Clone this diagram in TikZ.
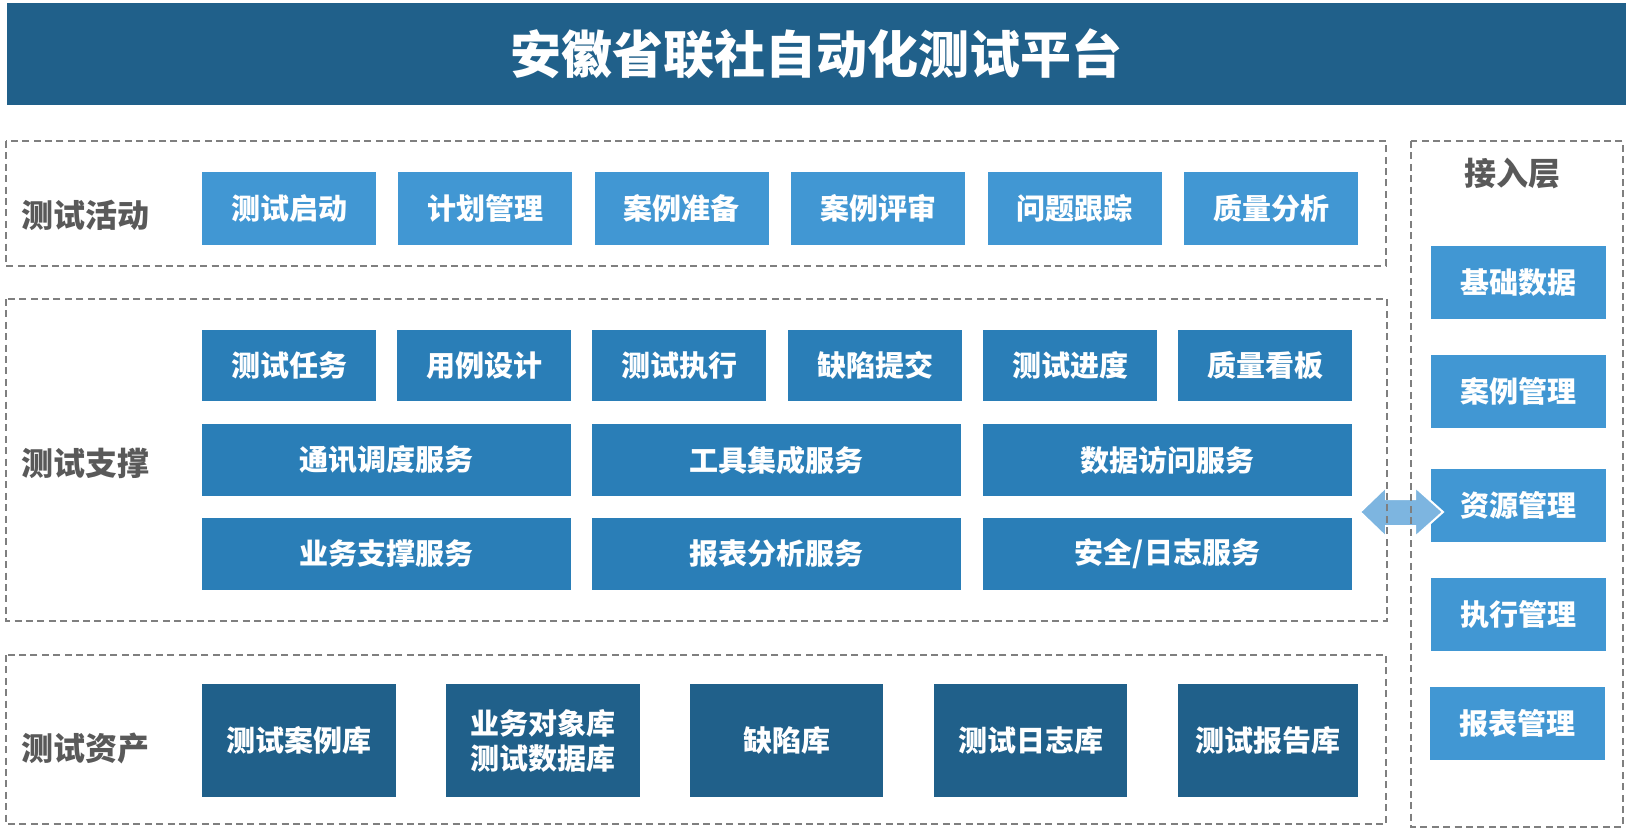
\documentclass[tikz,border=0pt]{standalone}
\usepackage{fontspec}
\setmainfont{Noto Sans CJK SC}
\definecolor{titlebg}{HTML}{20608A}
\definecolor{lightb}{HTML}{4197D3}
\definecolor{midb}{HTML}{2A7EB7}
\definecolor{darkb}{HTML}{20608A}
\definecolor{lblgray}{HTML}{595959}
\definecolor{dashgray}{HTML}{7F7F7F}
\definecolor{arrowb}{HTML}{7DB5E0}
\tikzset{
  box/.style={rectangle, inner sep=0pt, text=white, font=\bfseries\fontsize{14.5}{17.5}\selectfont, align=center},
  lbox/.style={box, fill=lightb},
  mbox/.style={box, fill=midb},
  dbox/.style={box, fill=darkb},
  grp/.style={draw=dashgray, line width=1pt, dash pattern=on 3.5pt off 2.2pt},
  lbl/.style={anchor=west, inner sep=0pt, text=lblgray, font=\bfseries\fontsize{16}{19}\selectfont},
}
\begin{document}
\begin{tikzpicture}[x=0.5pt, y=-0.5pt]
\useasboundingbox (0,0) rectangle (1629,829);
% title
\node[rectangle, fill=titlebg, minimum width=809.5pt, minimum height=51pt, inner sep=0pt,
      text=white, font=\bfseries\fontsize{25.5}{30}\selectfont] (title) at (816.5,54) {安徽省联社自动化测试平台};
% labels
\node[lbl] (l1) at (21,215) {测试活动};
\node[lbl] (l2) at (21,463) {测试支撑};
\node[lbl] (l3) at (21,748) {测试资产};
\node[lbl, anchor=center] (l4) at (1512,173) {接入层};
% row 1
\begin{scope}[every node/.style={lbox, minimum width=87pt, minimum height=36.5pt}]
\node (a1) at (289,208.5) {测试启动};
\node (a2) at (485.4,208.5) {计划管理};
\node (a3) at (681.8,208.5) {案例准备};
\node (a4) at (878.2,208.5) {案例评审};
\node (a5) at (1074.6,208.5) {问题跟踪};
\node (a6) at (1271,208.5) {质量分析};
\end{scope}
% row 2
\begin{scope}[every node/.style={mbox, minimum width=87pt, minimum height=35.5pt}]
\node (b1) at (289,365.5) {测试任务};
\node (b2) at (484,365.5) {用例设计};
\node (b3) at (679,365.5) {测试执行};
\node (b4) at (875,365.5) {缺陷提交};
\node (b5) at (1070,365.5) {测试进度};
\node (b6) at (1265,365.5) {质量看板};
\end{scope}
% rows 3,4
\begin{scope}[every node/.style={mbox, minimum width=184.5pt, minimum height=36pt}]
\node (c1) at (386,460) {通讯调度服务};
\node (c2) at (776.5,460) {工具集成服务};
\node (c3) at (1167.5,460) {数据访问服务};
\node (d1) at (386,554) {业务支撑服务};
\node (d2) at (776.5,554) {报表分析服务};
\node (d3) at (1167.5,554) {安全/日志服务};
\end{scope}
% row 5
\begin{scope}[every node/.style={dbox, minimum height=56.5pt}]
\node[minimum width=97pt] (e1) at (299,740.5) {测试案例库};
\node[minimum width=97pt] (e2) at (543,740.5) {业务对象库\\测试数据库};
\node[minimum width=96.5pt] (e3) at (786.5,740.5) {缺陷库};
\node[minimum width=96.5pt] (e4) at (1030.5,740.5) {测试日志库};
\node[minimum width=90pt] (e5) at (1268,740.5) {测试报告库};
\end{scope}
% right column
\begin{scope}[every node/.style={lbox, minimum width=87.5pt, minimum height=36.5pt}]
\node (r1) at (1518.5,282.5) {基础数据};
\node (r2) at (1518.5,391.5) {案例管理};
\node (r3) at (1518.5,505.5) {资源管理};
\node (r4) at (1518.5,614) {执行管理};
\node (r5) at (1517,723.5) {报表管理};
\end{scope}
% double arrow (over the boxes, under the dashed borders)
\coordinate (arrL) at (1360,512);
\coordinate (arrR) at (1443,512);
\fill[arrowb, draw=white, line width=1pt] (arrL) -- (1386,487) -- (1386,499) -- (1415,499) -- (1415,487) -- (arrR)
  -- (1415,537) -- (1415,526) -- (1386,526) -- (1386,537) -- cycle;
% groups
\draw[grp] (6,141) rectangle (1386,266);
\draw[grp] (6,299) rectangle (1387,621);
\draw[grp] (6,655) rectangle (1386,824);
\draw[grp] (1411,141) rectangle (1623,827);
\end{tikzpicture}
\end{document}
